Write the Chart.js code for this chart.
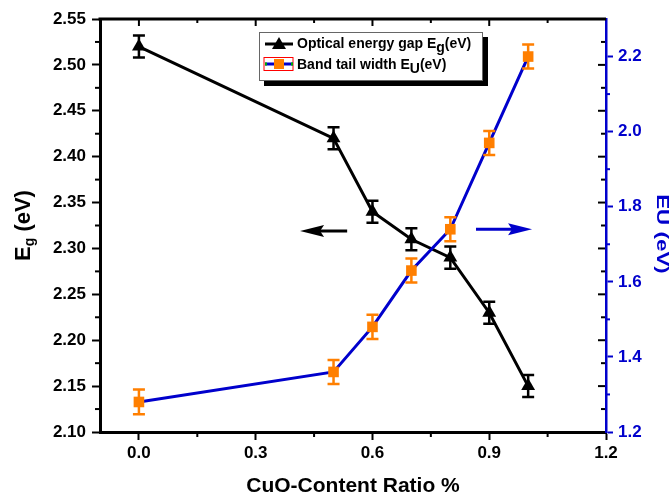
<!DOCTYPE html>
<html>
<head>
<meta charset="utf-8">
<script src="https://cdn.jsdelivr.net/npm/chart.js@4/dist/chart.umd.min.js"></script>
<style>
  body { margin:0; background:#fff; }
  #caixa { position:relative; width:670px; height:499px; }
  #legenda {
    position:absolute; left:259px; top:32px; width:222px; height:47px;
    border:1px solid #666; background:#fff; box-shadow:5px 5px 0 #000;
    font-family:"Liberation Sans", Arial, sans-serif; font-weight:bold; font-size:14px; color:#000;
  }
  .linha { position:absolute; left:3px; display:flex; align-items:center; white-space:nowrap; }
  .linha svg { margin-right:2px; }
  .linha sub { font-size:14px; vertical-align:-4px; line-height:0; }
</style>
</head>
<body>
<div id="caixa">
  <canvas id="grafico" width="670" height="499"></canvas>
  <div id="legenda">
    <div class="linha" style="top:2px">
      <svg width="32" height="16"><line x1="2" y1="9" x2="30" y2="9" stroke="#000" stroke-width="3"/><polygon points="16,2 23,14 9,14" fill="#000"/></svg>
      <span>Optical energy gap E<sub>g</sub>(eV)</span>
    </div>
    <div class="linha" style="top:23px">
      <svg width="32" height="16"><rect x="1" y="1.5" width="29" height="13" fill="#fff" stroke="#f00" stroke-width="1"/><line x1="2" y1="8" x2="30" y2="8" stroke="#0000cc" stroke-width="3"/><line x1="2" y1="8" x2="4" y2="8" stroke="#0a0" stroke-width="3"/><line x1="28" y1="8" x2="30" y2="8" stroke="#0a0" stroke-width="3"/><rect x="11" y="3" width="10" height="10" fill="#ff7f00"/></svg>
      <span>Band tail width E<sub>U</sub>(eV)</span>
    </div>
  </div>
</div>
<script>
// dados
const razaoCuO = [0.0, 0.5, 0.6, 0.7, 0.8, 0.9, 1.0];
const energiaGap = [2.52, 2.42, 2.34, 2.31, 2.29, 2.23, 2.15];
const erroGap = [0.012, 0.012, 0.012, 0.012, 0.012, 0.012, 0.012];
const larguraCauda = [1.28, 1.36, 1.48, 1.63, 1.74, 1.97, 2.20];
const erroCauda = [0.033, 0.032, 0.032, 0.032, 0.032, 0.032, 0.032];

const ticksX = [0.0, 0.3, 0.6, 0.9, 1.2];
const ticksGap = [2.10, 2.15, 2.20, 2.25, 2.30, 2.35, 2.40, 2.45, 2.50, 2.55];
const ticksCauda = [1.2, 1.4, 1.6, 1.8, 2.0, 2.2];

const fonte = '"Liberation Sans", Arial, sans-serif';
const azul = '#0000cc';
const laranja = '#ff7f00';

// setas indicando o eixo de cada curva (em coordenadas de dados)
const setas = [
  { de: 0.535, ate: 0.414, nivel: 2.319, cor: '#000' },
  { de: 0.866, ate: 1.010, nivel: 2.321, cor: azul }
];

function montarPontos(xs, ys){
  return xs.map((v, i) => ({ x: v, y: ys[i] }));
}

const decoracoes = {
  id: 'decoracoes',
  afterDatasetsDraw(chart){
    const { ctx, scales: { x, y, y1 } } = chart;
    ctx.save();
    ctx.lineWidth = 2.5;
    // barras de erro
    const desenharErro = (ys, erros, escala, cor) => {
      ctx.strokeStyle = cor;
      razaoCuO.forEach((v, i) => {
        const px = x.getPixelForValue(v);
        const top = escala.getPixelForValue(ys[i] + erros[i]);
        const bot = escala.getPixelForValue(ys[i] - erros[i]);
        ctx.beginPath();
        ctx.moveTo(px, top); ctx.lineTo(px, bot);
        ctx.moveTo(px - 6, top); ctx.lineTo(px + 6, top);
        ctx.moveTo(px - 6, bot); ctx.lineTo(px + 6, bot);
        ctx.stroke();
      });
    };
    desenharErro(energiaGap, erroGap, y, '#000');
    desenharErro(larguraCauda, erroCauda, y1, laranja);

    // setas
    setas.forEach(s => {
      const x0 = x.getPixelForValue(s.de);
      const x1 = x.getPixelForValue(s.ate);
      const py = y.getPixelForValue(s.nivel);
      const dir = Math.sign(x1 - x0);
      ctx.strokeStyle = s.cor; ctx.fillStyle = s.cor; ctx.lineWidth = 3;
      ctx.beginPath(); ctx.moveTo(x0, py); ctx.lineTo(x1 - dir * 18, py); ctx.stroke();
      ctx.beginPath();
      ctx.moveTo(x1, py);
      ctx.lineTo(x1 - dir * 24, py - 6);
      ctx.lineTo(x1 - dir * 20, py);
      ctx.lineTo(x1 - dir * 24, py + 6);
      ctx.closePath(); ctx.fill();
    });
    ctx.restore();
  },
  afterDraw(chart){
    const { ctx, chartArea: a, scales: { x, y, y1 } } = chart;
    ctx.save();
    // borda de cima
    ctx.strokeStyle = '#000'; ctx.lineWidth = 3;
    ctx.beginPath(); ctx.moveTo(a.left - 1.5, a.top); ctx.lineTo(a.right, a.top); ctx.stroke();

    ctx.lineWidth = 2;
    const marca = (x0, y0, x1, y2, cor) => {
      ctx.strokeStyle = cor;
      ctx.beginPath(); ctx.moveTo(x0, y0); ctx.lineTo(x1, y2); ctx.stroke();
    };
    // marcas do eixo x (menores embaixo, espelhadas em cima)
    for (let v = 0; v <= 1.2001; v += 0.15){
      const px = x.getPixelForValue(v);
      const maior = Math.abs(v / 0.3 - Math.round(v / 0.3)) < 0.01;
      if (!maior) marca(px, a.bottom, px, a.bottom + 5, '#000');
      if (v < 1.19) marca(px, a.top, px, a.top + (maior ? 7 : 4), '#000');
    }
    // marcas do eixo Eg (menores a esquerda, espelhadas na direita)
    for (let k = 0; k <= 18; k++){
      const v = 2.10 + k * 0.025;
      const py = y.getPixelForValue(v);
      const maior = k % 2 === 0;
      if (!maior) marca(a.left - 5, py, a.left, py, '#000');
      if (k > 0 && k < 18) marca(a.right - (maior ? 8 : 5), py, a.right - 1, py, '#000');
    }
    // marcas menores do eixo EU
    for (let k = 0; k < 5; k++){
      const py = y1.getPixelForValue(1.3 + k * 0.2);
      marca(a.right, py, a.right + 4, py, azul);
    }

    // titulos dos eixos verticais
    ctx.fillStyle = '#000';
    ctx.translate(24, (a.top + a.bottom) / 2);
    ctx.rotate(-Math.PI / 2);
    ctx.textBaseline = 'middle';
    ctx.font = 'bold 22px ' + fonte;
    const wE = ctx.measureText('E').width;
    ctx.font = 'bold 14px ' + fonte;
    const wG = ctx.measureText('g').width;
    ctx.font = 'bold 22px ' + fonte;
    const wR = ctx.measureText(' (eV)').width;
    let tx = -(wE + wG + wR) / 2;
    ctx.textAlign = 'left';
    ctx.fillText('E', tx, 0);
    ctx.font = 'bold 14px ' + fonte;
    ctx.fillText('g', tx + wE, 6);
    ctx.font = 'bold 22px ' + fonte;
    ctx.fillText(' (eV)', tx + wE + wG, 0);
    ctx.setTransform(1, 0, 0, 1, 0, 0);

    ctx.fillStyle = azul;
    ctx.translate(661, 234);
    ctx.rotate(Math.PI / 2);
    ctx.scale(1.4, 1);
    ctx.font = 'bold 16px ' + fonte;
    ctx.textAlign = 'center';
    ctx.textBaseline = 'middle';
    ctx.fillText('EU (eV)', 0, 0);
    ctx.restore();
  }
};

new Chart(document.getElementById('grafico'), {
  type: 'scatter',
  data: {
    datasets: [
      {
        label: 'Optical energy gap Eg(eV)',
        data: montarPontos(razaoCuO, energiaGap),
        yAxisID: 'y',
        showLine: true,
        borderColor: '#000',
        backgroundColor: '#000',
        borderWidth: 3,
        pointStyle: 'triangle',
        pointRadius: 8,
        pointBorderWidth: 0,
        order: 2
      },
      {
        label: 'Band tail width EU(eV)',
        data: montarPontos(razaoCuO, larguraCauda),
        yAxisID: 'y1',
        showLine: true,
        borderColor: azul,
        backgroundColor: laranja,
        pointBorderColor: laranja,
        borderWidth: 3,
        pointStyle: 'rect',
        pointRadius: 7.5,
        pointBorderWidth: 0,
        order: 1
      }
    ]
  },
  options: {
    responsive: false,
    animation: false,
    devicePixelRatio: 1,
    layout: { padding: { top: 19, left: 0, right: 0, bottom: 0 } },
    plugins: { legend: { display: false }, tooltip: { enabled: false } },
    scales: {
      x: {
        type: 'linear', min: -0.1, max: 1.2,
        afterBuildTicks: s => { s.ticks = ticksX.map(v => ({ value: v })); },
        afterFit: s => { s.height = 67; },
        ticks: { color: '#000', padding: 3, maxRotation: 0, font: { family: fonte, weight: 'bold', size: 17 }, callback: v => v.toFixed(1) },
        grid: { drawOnChartArea: false, tickLength: 8, tickWidth: 2, tickColor: '#000' },
        border: { color: '#000', width: 3 },
        title: { display: true, text: 'CuO-Content Ratio %', color: '#000', padding: { top: 0, bottom: 0 }, font: { family: fonte, weight: 'bold', size: 21 } }
      },
      y: {
        position: 'left', min: 2.10, max: 2.55,
        afterBuildTicks: s => { s.ticks = ticksGap.map(v => ({ value: v })); },
        afterFit: s => { s.width = 100; },
        ticks: { color: '#000', padding: 6, font: { family: fonte, weight: 'bold', size: 17 }, callback: v => v.toFixed(2) },
        grid: { drawOnChartArea: false, tickLength: 8, tickWidth: 2, tickColor: '#000' },
        border: { color: '#000', width: 3 }
      },
      y1: {
        position: 'right', min: 1.2, max: 2.3,
        afterBuildTicks: s => { s.ticks = ticksCauda.map(v => ({ value: v })); },
        afterFit: s => { s.width = 64; },
        ticks: { color: azul, padding: 5, font: { family: fonte, weight: 'bold', size: 17 }, callback: v => v.toFixed(1) },
        grid: { drawOnChartArea: false, tickLength: 7, tickWidth: 2, tickColor: azul },
        border: { color: azul, width: 2.5 }
      }
    }
  },
  plugins: [decoracoes]
});
</script>
</body>
</html>
